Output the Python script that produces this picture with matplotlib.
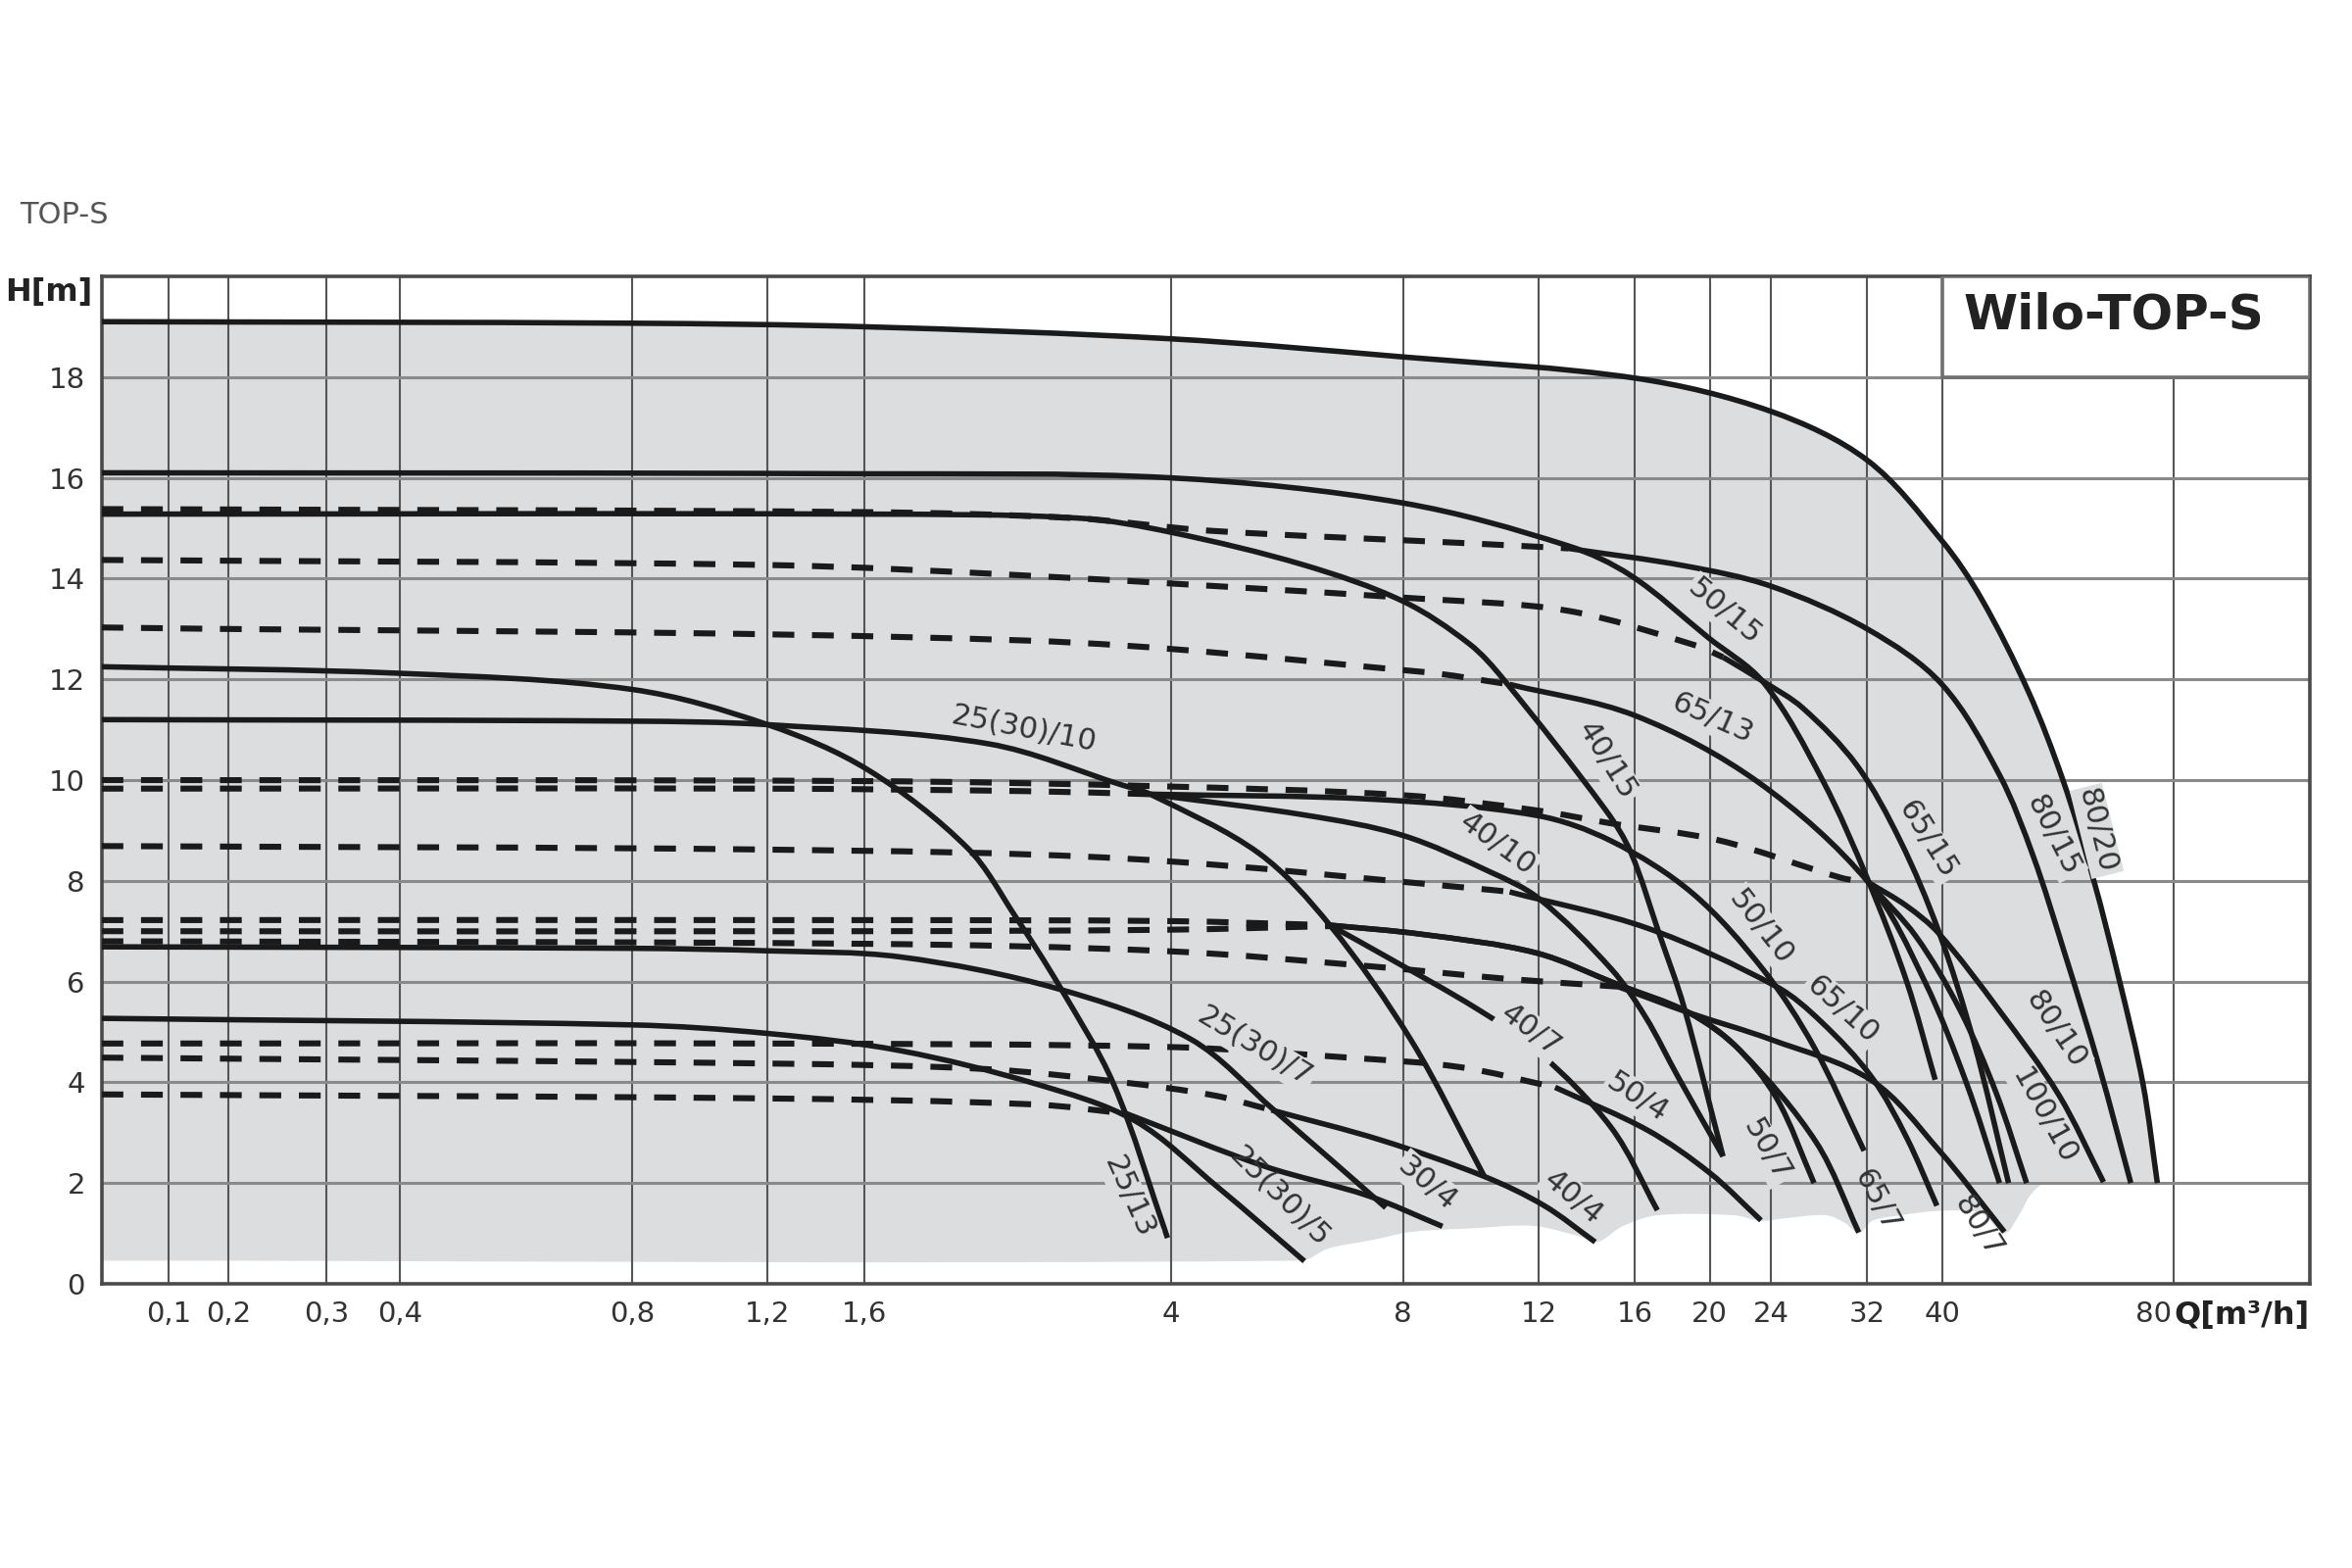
import numpy as np
import matplotlib
matplotlib.use("Agg")
import matplotlib.pyplot as plt
from matplotlib.path import Path
from matplotlib.patches import PathPatch, Rectangle

plt.rcParams["font.family"] = ["Liberation Sans Narrow", "DejaVu Sans"]
plt.rcParams["lines.scale_dashes"] = False

INK = "#1a1a1a"
FILL = "#dcdddf"
TXT = "#333333"
PX_PER_M = 51.4  # vertical pixels per metre, to match the x scale units below

# x axis of the catalogue sheet: log above 0.4 m3/h, stretched below it
SCALE_Q = [1e-4, 0.05, 0.1, 0.2, 0.3, 0.4, 1e4]
SCALE_U = [-444.3, 103.6, 172.0, 233.0, 333.0, 408.0, 3869.2]

X_TICKS = [0.1, 0.2, 0.3, 0.4, 0.8, 1.2, 1.6, 4, 8, 12, 16, 20, 24, 32, 40, 80]
X_LABELS = ["0,1", "0,2", "0,3", "0,4", "0,8", "1,2", "1,6", "4", "8", "12",
            "16", "20", "24", "32", "40", ""]
Y_TICKS = [0, 2, 4, 6, 8, 10, 12, 14, 16, 18]

# --- pump curves, Q [m3/h] / H [m]; solid = drawn line, D = dashed part ---
Q_80_20 = [0.05, 0.8, 1.6, 4, 8, 16, 24, 32, 40, 45, 51.8, 57.4, 62.8, 68, 72.9, 76.1]
H_80_20 = [19.1, 19.07, 19.0, 18.76, 18.4, 17.98, 17.32, 16.35, 14.75, 13.6, 11.75, 10.0, 8.06, 6.0, 3.97, 2.0]

QD_80_15 = [0.05, 1.6, 3.0, 4.5, 9.76, 13.1]
HD_80_15 = [15.38, 15.32, 15.2, 14.95, 14.7, 14.6]
Q_80_15 = [13.1, 18.6, 24, 32, 40, 47.5, 52.5, 57.6, 64, 70.3]
H_80_15 = [14.6, 14.25, 13.85, 13.0, 11.9, 10.1, 8.5, 6.6, 4.3, 2.0]

Q_50_15 = [0.05, 1.6, 4, 8, 13.1, 15.8, 19.9, 23.5, 28, 32.1, 36, 39.2]
H_50_15 = [16.1, 16.08, 16.0, 15.5, 14.65, 14.06, 12.83, 11.93, 10.0, 8.0, 6.0, 4.05]

Q_40_15 = [0.05, 1.6, 3.04, 4, 5.95, 8, 9.76, 10.8, 14.66, 15.8, 17.2, 18.5, 20.8]
H_40_15 = [15.28, 15.28, 15.2, 14.92, 14.27, 13.55, 12.7, 12.0, 9.4, 8.56, 6.94, 5.51, 2.53]

QD_65_15 = [0.05, 1.2, 2.6, 8.45, 13.1, 19.2, 20.8]
HD_65_15 = [14.37, 14.27, 14.06, 13.6, 13.36, 12.67, 12.44]
Q_65_15 = [20.8, 23.5, 26.4, 31, 35.3, 39.6, 44, 48.8]
H_65_15 = [12.44, 11.95, 11.43, 10.3, 8.8, 7.0, 4.8, 2.0]

QD_65_13 = [0.05, 2.6, 8.45, 11]
HD_65_13 = [13.03, 12.77, 12.15, 11.9]
Q_65_13 = [11, 16, 23.1, 32.1, 38, 43, 47.5]
H_65_13 = [11.9, 11.28, 9.96, 7.97, 6.0, 4.0, 2.0]

Q_25_13 = [0.05, 0.4, 0.8, 1.2, 1.62, 2.18, 2.51, 2.87, 3.37, 3.96]
H_25_13 = [12.25, 12.12, 11.8, 11.1, 10.2, 8.65, 7.31, 5.9, 3.97, 0.91]

Q_25_10 = [0.05, 0.8, 1.2, 2.32, 3.46, 3.76, 5.2, 6.43, 8.2, 10.2]
H_25_10 = [11.2, 11.17, 11.1, 10.72, 9.9, 9.72, 8.55, 7.12, 4.83, 2.13]

QD_80_10 = [0.05, 1.6, 3.8, 8, 11.9, 14.9, 20.6, 29.6, 32.1]
HD_80_10 = [10.0, 9.98, 9.88, 9.7, 9.4, 9.14, 8.8, 8.06, 7.97]
Q_80_10 = [32.1, 36, 39.6, 47.4, 56.7, 64.8]
H_80_10 = [7.97, 7.5, 6.96, 5.44, 3.75, 2.02]

Q_100_10 = [32.1, 37, 42.2, 47, 51.5]
H_100_10 = [7.97, 6.9, 5.44, 3.8, 2.0]

QD_40_10 = [0.05, 1.2, 2.6, 3.76]
HD_40_10 = [9.83, 9.83, 9.78, 9.72]
Q_40_10 = [3.76, 6.0, 8.0, 10.4, 12.0, 14.9, 16.5, 18.2, 20.8]
H_40_10 = [9.72, 9.3, 8.9, 8.17, 7.65, 6.25, 5.3, 4.1, 2.53]

Q_50_10 = [3.76, 7.3, 11.9, 14.9, 19.0, 23.5, 27.3, 31.7]
H_50_10 = [9.72, 9.62, 9.3, 8.79, 7.75, 6.22, 4.7, 2.64]

QD_65_10 = [0.05, 1.2, 3.5, 10.4, 11.0]
HD_65_10 = [8.69, 8.62, 8.44, 7.82, 7.78]
Q_65_10 = [11.0, 16.6, 24.4, 27.9, 32.4, 36, 39.4]
H_65_10 = [7.78, 7.06, 5.9, 5.2, 4.11, 2.9, 1.55]

QD_50_7 = [0.05, 1.6, 4, 6.43]
HD_50_7 = [7.22, 7.22, 7.2, 7.12]
QD_65_7 = [0.05, 1.6, 4, 6.43]
HD_65_7 = [7.0, 7.0, 7.03, 7.1]

Q_40_7 = [6.43, 7.5, 10, 12, 14.9, 17.1]
H_40_7 = [7.12, 6.55, 5.45, 4.6, 3.1, 1.46]
Q_50_7 = [6.43, 8.45, 11.9, 15.2, 18.8, 21.5, 24.4, 27.3]
H_50_7 = [7.12, 6.94, 6.57, 5.94, 5.38, 4.75, 3.69, 2.0]
Q_65_7 = [6.43, 8.45, 11.9, 15.2, 18.8, 22, 27.5, 31.2]
H_65_7 = [7.12, 6.94, 6.57, 5.94, 5.38, 4.6, 2.8, 1.02]

QD_80_7 = [0.05, 1.6, 4, 7.3, 11, 15.2]
HD_80_7 = [6.8, 6.75, 6.6, 6.3, 6.05, 5.9]
Q_80_7 = [15.2, 18.8, 24, 32.4, 39.6, 48.2]
H_80_7 = [5.9, 5.38, 4.85, 4.04, 2.66, 1.03]

Q_25_7 = [0.05, 0.8, 1.2, 1.78, 2.85, 4.24, 5.45, 7.6]
H_25_7 = [6.69, 6.66, 6.61, 6.49, 5.86, 4.86, 3.44, 1.51]

Q_25_5 = [0.05, 0.8, 1.2, 1.78, 2.67, 3.59, 4.6, 5.96]
H_25_5 = [5.27, 5.14, 4.97, 4.63, 3.97, 3.24, 1.92, 0.45]

QD_50_4 = [0.05, 1.2, 4, 6.8, 9.5, 12.6]
HD_50_4 = [4.77, 4.77, 4.7, 4.49, 4.3, 3.9]
Q_50_4 = [12.6, 16.6, 20, 23.3]
H_50_4 = [3.9, 3.05, 2.2, 1.26]

QD_40_4 = [0.05, 1.25, 2.32, 3.46, 4.55, 5.4]
HD_40_4 = [4.49, 4.37, 4.26, 4.0, 3.74, 3.45]
Q_40_4 = [5.4, 7.5, 10.2, 12.2, 14.2]
H_40_4 = [3.45, 2.85, 2.13, 1.55, 0.83]

QD_30_4 = [0.05, 1.2, 2.67, 3.5]
HD_30_4 = [3.76, 3.68, 3.56, 3.38]
Q_30_4 = [3.5, 5.3, 7.2, 9.0]
H_30_4 = [3.38, 2.33, 1.75, 1.14]

# lower edge of the grey field
GB_Q = [0.05, 5.9, 6.4, 7.3, 8.2, 9.8, 11.8, 13.5, 14.3, 15.4, 17.1, 21.5, 23.3, 25.0,
        28.3, 30.0, 31.2, 32.5, 35.3, 40.0, 45.0, 48.2, 50.5, 51.9, 53.6, 55.0, 76.1]
GB_H = [0.46, 0.46, 0.7, 0.87, 1.03, 1.1, 1.15, 0.95, 0.83, 1.14, 1.36, 1.36, 1.25, 1.3,
        1.36, 1.2, 1.0, 1.25, 1.36, 1.45, 1.4, 1.0, 1.4, 1.73, 1.95, 2.0, 2.0]

LABEL_TEXT = ["25(30)/10", "50/15", "65/13", "40/15", "80/15", "80/20", "65/15", "65/10",
              "80/10", "100/10", "65/7", "80/7", "50/10", "40/10", "40/7", "50/4", "50/7",
              "40/4", "30/4", "25(30)/7", "25(30)/5", "25/13"]
LABEL_Q = [2.58, 20.9, 20.2, 14.7, 55.8, 63.5, 38.3, 29.7, 56.2, 54.3, 32.9, 44.6, 23.3,
           10.6, 11.7, 16.1, 23.7, 13.3, 8.61, 5.14, 5.53, 3.53]
LABEL_H = [11.01, 13.33, 11.22, 10.38, 8.9, 8.99, 8.81, 5.44, 5.03, 3.33, 1.63, 1.13, 7.08,
           8.72, 5.03, 3.69, 2.65, 1.71, 1.99, 4.7, 1.72, 1.73]
LABEL_ROT = [-11, -40, -24, -58, -63, -76, -58, -42, -56, -61, -62, -58, -52, -36, -37, -33,
             -60, -40, -40, -31, -45, -66]

SOLID = [(Q_80_20, H_80_20), (Q_80_15, H_80_15), (Q_50_15, H_50_15), (Q_40_15, H_40_15),
         (Q_65_15, H_65_15), (Q_65_13, H_65_13), (Q_25_13, H_25_13), (Q_25_10, H_25_10),
         (Q_80_10, H_80_10), (Q_100_10, H_100_10), (Q_40_10, H_40_10), (Q_50_10, H_50_10),
         (Q_65_10, H_65_10), (Q_40_7, H_40_7), (Q_50_7, H_50_7), (Q_65_7, H_65_7),
         (Q_80_7, H_80_7), (Q_25_7, H_25_7), (Q_25_5, H_25_5), (Q_50_4, H_50_4),
         (Q_40_4, H_40_4), (Q_30_4, H_30_4)]
DASHED = [(QD_80_15, HD_80_15), (QD_65_15, HD_65_15), (QD_65_13, HD_65_13),
          (QD_80_10, HD_80_10), (QD_40_10, HD_40_10), (QD_65_10, HD_65_10),
          (QD_50_7, HD_50_7), (QD_65_7, HD_65_7), (QD_80_7, HD_80_7),
          (QD_50_4, HD_50_4), (QD_40_4, HD_40_4), (QD_30_4, HD_30_4)]

# labels that sit partly on the white area get no grey backing
NO_BOX = {"80/7", "65/7", "25(30)/5"}

LOG_Q = np.log10(SCALE_Q)


def fwd(q):
    q = np.clip(np.asarray(q, dtype=float), 1e-4, None)
    return np.interp(np.log10(q), LOG_Q, SCALE_U)


def inv(u):
    return 10 ** np.interp(np.asarray(u, dtype=float), SCALE_U, LOG_Q)


def smooth(q, h):
    # cubic Bezier handles (chord-length Hermite) computed in display-like units
    p = np.column_stack([fwd(q), np.asarray(h, dtype=float) * PX_PER_M])
    t = np.concatenate([[0.0], np.cumsum(np.hypot(*np.diff(p, axis=0).T))])
    n = len(p)
    m = np.empty_like(p)
    m[0] = (p[1] - p[0]) / (t[1] - t[0])
    m[-1] = (p[-1] - p[-2]) / (t[-1] - t[-2])
    for i in range(1, n - 1):
        m[i] = (p[i + 1] - p[i - 1]) / (t[i + 1] - t[i - 1])
    out = []
    for i in range(n - 1):
        dt = t[i + 1] - t[i]
        out += [p[i] + m[i] * dt / 3, p[i + 1] - m[i + 1] * dt / 3, p[i + 1]]
    out = np.array(out)
    out[:, 0] = inv(out[:, 0])
    out[:, 1] /= PX_PER_M
    return out


def curve(q, h):
    verts = np.vstack([[q[0], h[0]], smooth(q, h)])
    codes = [Path.MOVETO] + [Path.CURVE4] * (len(verts) - 1)
    return Path(verts, codes)


fig = plt.figure(figsize=(12, 8), dpi=200)
ax = fig.add_axes([0.04317, 0.18125, 0.93892, 0.6425])
ax.set_xscale("function", functions=(fwd, inv))
ax.set_xlim(0.05, 120)
ax.set_ylim(0, 20)

# grey working field
top = smooth(Q_80_20, H_80_20)
bottom = smooth(GB_Q[::-1], GB_H[::-1])
verts = np.vstack([[GB_Q[0], GB_H[0]], [Q_80_20[0], H_80_20[0]], top, bottom,
                   [GB_Q[0], GB_H[0]]])
codes = ([Path.MOVETO, Path.LINETO] + [Path.CURVE4] * (len(top) + len(bottom))
         + [Path.CLOSEPOLY])
ax.add_patch(PathPatch(Path(verts, codes), fc=FILL, ec="none", zorder=1))

ax.set_xticks(X_TICKS)
ax.set_xticklabels(X_LABELS)
ax.xaxis.set_minor_locator(matplotlib.ticker.NullLocator())
ax.set_yticks(Y_TICKS)
ax.tick_params(length=0, labelsize=10.5, colors=TXT, pad=6)
ax.grid(True, axis="x", color="#555555", lw=0.75)
ax.grid(True, axis="y", color="#8a8a8a", lw=1.1)
for s in ax.spines.values():
    s.set_color("#4a4a4a")
    s.set_linewidth(1.3)

# last tick label sits left of its grid line, next to the axis title
ax.annotate("80", xy=(80, 0), xycoords="data", xytext=(-1, -6), textcoords="offset points",
            ha="right", va="top", fontsize=10.5, color=TXT)

# title box
ax.add_patch(Rectangle((40, 18), 80, 2, fc="white", ec="#707070", lw=1.3, zorder=3))
ax.text(0.911, 0.962, "Wilo-TOP-S", transform=ax.transAxes, ha="center", va="center",
        fontsize=18, fontweight="bold", color="#222222", zorder=6)

for q, h in DASHED:
    ax.add_patch(PathPatch(curve(q, h), fill=False, ec=INK, lw=2.2,
                           ls=(0, (8, 6.5)), capstyle="butt", zorder=4))
for q, h in SOLID:
    ax.add_patch(PathPatch(curve(q, h), fill=False, ec=INK, lw=2.0,
                           capstyle="butt", joinstyle="round", zorder=4))

for t, q, h, r in zip(LABEL_TEXT, LABEL_Q, LABEL_H, LABEL_ROT):
    box = None if t in NO_BOX else dict(boxstyle="square,pad=0.08", fc=FILL, ec="none")
    ax.text(q, h, t, rotation=r, rotation_mode="anchor", ha="center", va="center",
            fontsize=11, color=TXT, zorder=5, bbox=box)

ax.text(-0.024, 0.9835, "H[m]", transform=ax.transAxes, ha="center", va="center",
        fontsize=11.5, fontweight="bold", color="#222222")
ax.text(1.0, -0.032, "Q[m³/h]", transform=ax.transAxes, ha="right", va="center",
        fontsize=11.5, fontweight="bold", color="#222222")
fig.text(0.0083, 0.863, "TOP-S", ha="left", va="center", fontsize=11, color="#555555")

fig.savefig("out.png", dpi=200)
